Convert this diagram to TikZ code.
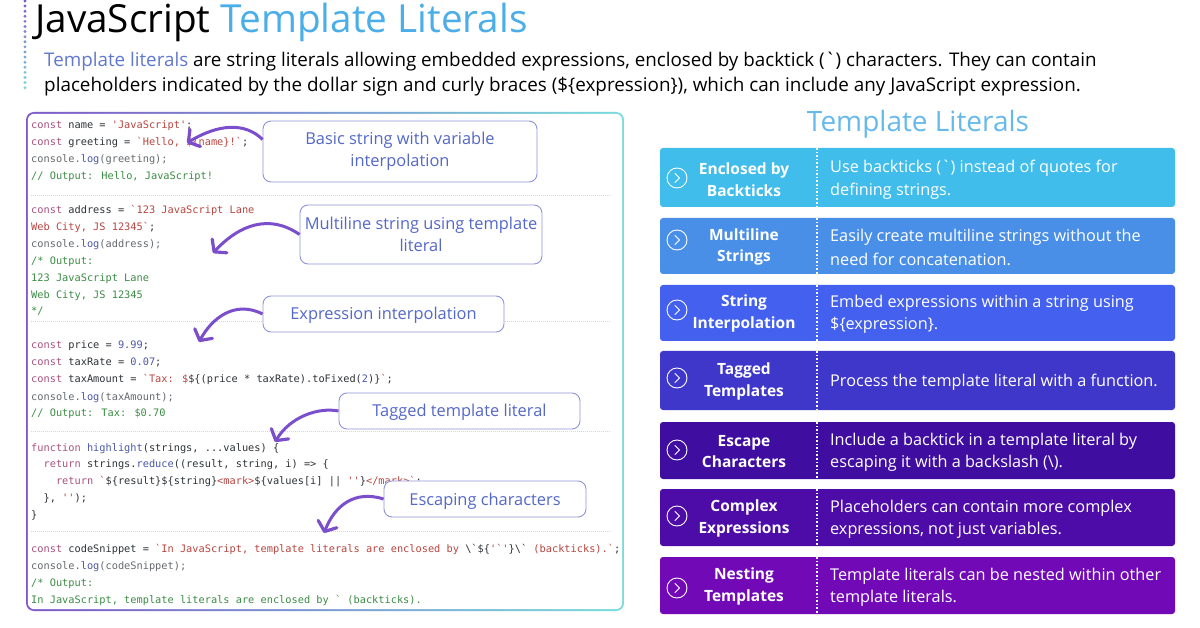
\documentclass[tikz,border=0pt]{standalone}
\usepackage{fontspec}
\usetikzlibrary{arrows.meta,calc,shapes.geometric}
\newfontfamily\uif{Open Sans}
\newfontfamily\cod{DejaVu Sans Mono}
\definecolor{kw}{HTML}{A8527F}
\definecolor{str}{HTML}{B8453F}
\definecolor{cmt}{HTML}{3C8C45}
\definecolor{fn}{HTML}{4C57A8}
\definecolor{gry}{HTML}{666A6E}
\definecolor{ink}{HTML}{2E3338}
\definecolor{calltxt}{HTML}{5468C8}
\definecolor{callbd}{HTML}{8E94DA}
\definecolor{arrowc}{HTML}{7B4FCB}
\definecolor{headblue}{HTML}{4BAEE8}
\definecolor{introblue}{HTML}{6078D0}
\definecolor{dotA}{HTML}{7D5AD2}
\definecolor{dotB}{HTML}{78D7D7}
\definecolor{panA}{HTML}{805AC8}
\definecolor{panB}{HTML}{5578CD}
\definecolor{panC}{HTML}{78DCDC}
\definecolor{r1}{HTML}{40BDEA}
\definecolor{r2}{HTML}{4A8FE7}
\definecolor{r3}{HTML}{4361EE}
\definecolor{r4}{HTML}{3F37C9}
\definecolor{r5}{HTML}{3F0EA0}
\definecolor{r6}{HTML}{4D0CA8}
\definecolor{r7}{HTML}{7209B7}
\newcommand{\Kw}[1]{\textcolor{kw}{#1}}
\newcommand{\St}[1]{\textcolor{str}{#1}}
\newcommand{\Cm}[1]{\textcolor{cmt}{#1}}
\newcommand{\Fn}[1]{\textcolor{fn}{#1}}
\newcommand{\Gy}[1]{\textcolor{gry}{#1}}
\newcommand{\FS}[1]{\fontsize{#1}{#1}\selectfont}
\newcommand{\rowitem}[7]{%
 \fill[#1,rounded corners=3pt] (660,#2) rectangle (1175,#3);
 \draw[white,line width=1.6pt,dash pattern=on 1.6pt off 2pt] (817,#2) -- (817,#3);
 \node[rowcirc] (circ#1) at (677,#4) {};
 \draw[white,line width=.9pt,line cap=round,line join=round] ($(circ#1)+(-2,-4.5)$) -- ($(circ#1)+(2.6,0)$) -- ($(circ#1)+(-2,4.5)$);
 \node[rowtitle] (title#1) at (744,#5) {#6};
 \node[rowdesc] (desc#1) at (830,#5) {#7};
}
\tikzset{
 codeln/.style={anchor=base west,yshift=-4pt,inner sep=0pt,text=ink,font=\cod\FS{10.3}},
 callout/.style={draw=callbd,line width=.9pt,fill=white,rounded corners=8pt,text=calltxt,align=center,font=\uif\FS{16.4},inner sep=0pt},
 oneline/.style={text height=12pt,text depth=0pt},
 curvearrow/.style={draw=arrowc,line width=3pt,-{Straight Barb[length=8pt,width=20pt,line width=3.2pt,round]}},
 sepline/.style={draw=black!16,line width=.8pt,dash pattern=on .8pt off 1.2pt},
 rowcirc/.style={circle,draw=white,line width=.9pt,minimum size=20pt,inner sep=0pt},
 rowtitle/.style={text=white,align=center,font=\uif\bfseries\FS{15.5},inner sep=0pt,yshift=-1.5pt},
 rowdesc/.style={anchor=west,text=white,align=left,font=\uif\FS{16.25},inner sep=0pt,yshift=-2pt},
}
\begin{document}
\begin{tikzpicture}[x=1pt,y=-1pt]
\useasboundingbox (0,0) rectangle (1200,628);
\fill[white] (0,0) rectangle (1200,628);
% left dots
\foreach \i in {0,...,17}{
 \pgfmathsetmacro{\m}{100-\i*100/17}
 \fill[dotA!\m!dotB] (25,{1+\i*5.1}) circle (1.6);
}
% heading
\node[anchor=base west,inner sep=0pt,font=\uif\FS{38.7}] (head) at (35,33) {JavaScript \textcolor{headblue}{Template Literals}};
\node[anchor=base west,inner sep=0pt,font=\uif\FS{18.8}] (intro1) at (44,66.5) {\textcolor{introblue}{Template literals} are string literals allowing embedded expressions, enclosed by backtick (`) characters. They can contain};
\node[anchor=base west,inner sep=0pt,font=\uif\FS{18.85}] (intro2) at (44,91.5) {placeholders indicated by the dollar sign and curly braces (\$\{expression\}), which can include any JavaScript expression.};
% code panel
\node[rectangle,rounded corners=8pt,minimum width=598pt,minimum height=499pt,inner sep=0pt,left color=panA,middle color=panB,right color=panC] (panel) at (325,361.5) {};
\node[rectangle,rounded corners=6.5pt,minimum width=594.4pt,minimum height=495.4pt,inner sep=0pt,fill=white] (panelin) at (325,361.5) {};
\draw[sepline] (31,195) -- (611,195);
\draw[sepline] (31,321) -- (611,321);
\draw[sepline] (31,431) -- (611,431);
\draw[sepline] (31,531) -- (611,531);
% code lines
\node[codeln] (l1) at (31,125) {\Kw{const} name = \St{'JavaScript'};};
\node[codeln] (l2) at (31,142) {\Kw{const} greeting = \St{`Hello, \$\{name\}!`};};
\node[codeln] (l3) at (31,159) {\Gy{console.}\Fn{log}\Gy{(greeting);}};
\node[codeln] (l4) at (31,176) {\Cm{// Output: Hello, JavaScript!}};
\node[codeln] (l5) at (31,210) {\Kw{const} address = \St{`123 JavaScript Lane}};
\node[codeln] (l6) at (31,227) {\St{Web City, JS 12345`};};
\node[codeln] (l7) at (31,244) {\Gy{console.}\Fn{log}\Gy{(address);}};
\node[codeln] (l8) at (31,261) {\Cm{/* Output:}};
\node[codeln] (l9) at (31,278) {\Cm{123 JavaScript Lane}};
\node[codeln] (l10) at (31,295) {\Cm{Web City, JS 12345}};
\node[codeln] (l11) at (31,311) {\Cm{*/}};
\node[codeln] (l12) at (31,345) {\Kw{const} price = \Fn{9.99};};
\node[codeln] (l13) at (31,362) {\Kw{const} taxRate = \Fn{0.07};};
\node[codeln] (l14) at (31,379) {\Kw{const} taxAmount = \St{`Tax: \$}\$\{(price * taxRate).toFixed(\Fn{2})\}\St{`};};
\node[codeln] (l15) at (31,396) {\Gy{console.}\Fn{log}\Gy{(taxAmount);}};
\node[codeln] (l16) at (31,412) {\Cm{// Output: Tax: \$0.70}};
\node[codeln] (l17) at (31,447) {\Kw{function} \Fn{highlight}(strings, ...values) \{};
\node[codeln] (l18) at (43.4,463) {\Kw{return} strings.\Fn{reduce}((result, string, i) => \{};
\node[codeln] (l19) at (55.8,480) {\Kw{return} \St{`}\$\{result\}\$\{string\}\St{<mark>}\$\{values[i] || \St{''}\}\St{</mark>`};};
\node[codeln] (l20) at (43.4,497) {\}, \St{''});};
\node[codeln] (l21) at (31,514) {\}};
\node[codeln] (l22) at (31,548) {\Kw{const} codeSnippet = \St{`In JavaScript, template literals are enclosed by }\textbackslash`\$\{\St{'`'}\}\textbackslash` \St{(backticks).`};};
\node[codeln] (l23) at (31,565) {\Gy{console.}\Fn{log}\Gy{(codeSnippet);}};
\node[codeln] (l24) at (31,582) {\Cm{/* Output:}};
\node[codeln] (l25) at (31,599) {\Cm{In JavaScript, template literals are enclosed by ` (backticks).}};
% callouts
\node[callout,minimum width=274pt,minimum height=61pt] (cb1) at (400,151.5) {Basic string with variable\\[5.5pt]interpolation};
\node[callout,minimum width=242pt,minimum height=59pt] (cb2) at (421,234.5) {Multiline string using template\\[5.5pt]literal};
\node[callout,oneline,minimum width=241pt,minimum height=36pt] (cb3) at (383.5,314) {Expression interpolation};
\node[callout,oneline,minimum width=241pt,minimum height=36pt] (cb4) at (459.5,411) {Tagged template literal};
\node[callout,oneline,minimum width=202pt,minimum height=36pt] (cb5) at (485,499) {Escaping characters};
% arrow ends
\coordinate (h1) at (187,143);
\coordinate (h2) at (213,253);
\coordinate (h3) at (199,342);
\coordinate (h4) at (275,442);
\coordinate (h5) at (324,533);
\draw[curvearrow] (cb1.175) .. controls (245,122) and (218,124) .. (h1);
\draw[curvearrow] (cb2.west) .. controls (270,214) and (240,224) .. (h2);
\draw[curvearrow] (cb3.west) .. controls (235,300) and (212,318) .. (h3);
\draw[curvearrow] (cb4.west) .. controls (318,407) and (290,417) .. (h4);
\draw[curvearrow] (cb5.west) .. controls (355,490) and (335,505) .. (h5);
% right side
\node[anchor=base,inner sep=0pt,text=headblue!85!white,font=\uif\FS{28}] (rtitle) at (918,132) {Template Literals};
\rowitem{r1}{148}{207}{178}{178}{Enclosed by\\[6pt]Backticks}{Use backticks (`) instead of quotes for\\[6pt]defining strings.}
\rowitem{r2}{218}{274}{240}{245.5}{Multiline\\[6pt]Strings}{Easily create multiline strings without the\\[6pt]need for concatenation.}
\rowitem{r3}{285}{341}{310}{312}{String\\[6pt]Interpolation}{Embed expressions within a string using\\[6pt]\$\{expression\}.}
\rowitem{r4}{351}{410}{378}{380}{Tagged\\[6pt]Templates}{Process the template literal with a function.}
\rowitem{r5}{422}{479}{450}{450}{Escape\\[6pt]Characters}{Include a backtick in a template literal by\\[6pt]escaping it with a backslash (\textbackslash).}
\rowitem{r6}{489}{546}{516}{517}{Complex\\[6pt]Expressions}{Placeholders can contain more complex\\[6pt]expressions, not just variables.}
\rowitem{r7}{557}{614}{588}{585}{Nesting\\[6pt]Templates}{Template literals can be nested within other\\[6pt]template literals.}
\end{tikzpicture}
\end{document}
